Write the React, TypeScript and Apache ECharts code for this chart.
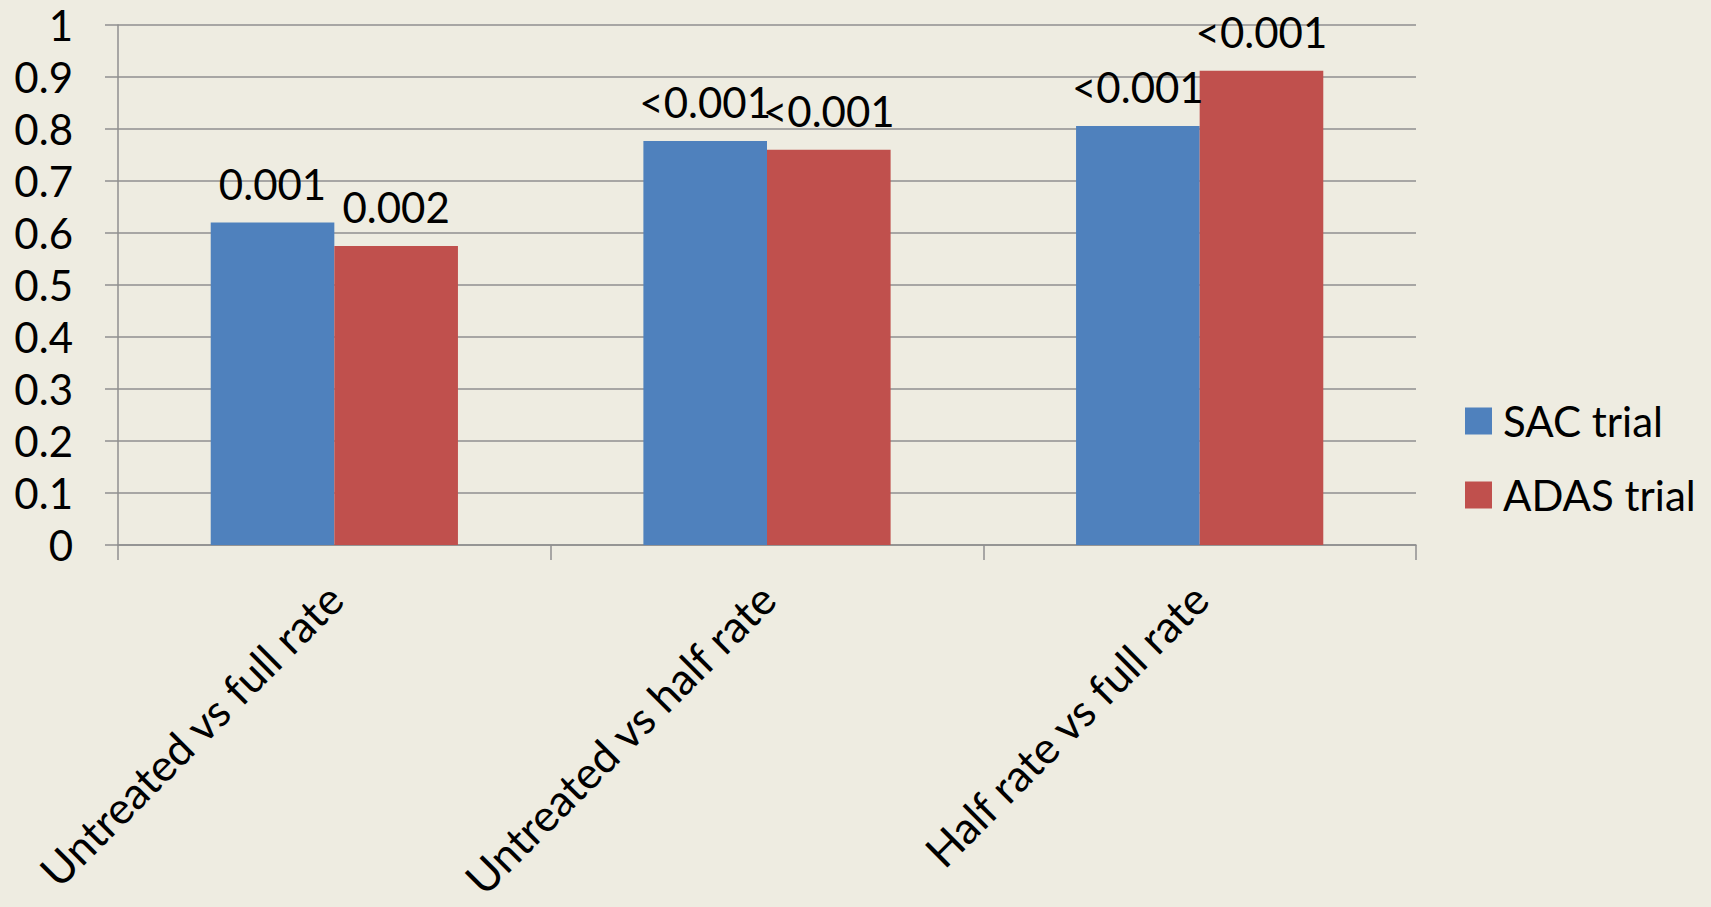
import React, { useEffect, useRef } from "react";
import * as echarts from "echarts";

const categories = ["Untreated vs full rate", "Untreated vs half rate", "Half rate vs full rate"];
const sacValues = [0.62, 0.777, 0.806];
const adasValues = [0.575, 0.76, 0.912];
const sacLabels = ["0.001", "<0.001", "<0.001"];
const adasLabels = ["0.002", "<0.001", "<0.001"];
const seriesNames = ["SAC trial", "ADAS trial"];

const FONT = "Lato, 'Open Sans', sans-serif";
const GRID_GRAY = "#8f8f8f";

export default function App() {
  const ref = useRef<HTMLDivElement>(null);

  useEffect(() => {
    if (!ref.current) return;
    const chart = echarts.init(ref.current, undefined, { renderer: "svg" });

    const labelStyle = {
      show: true,
      position: "top" as const,
      distance: 18,
      fontFamily: FONT,
      fontSize: 42,
      color: "#000",
    };

    chart.setOption({
      animation: false,
      backgroundColor: "#EEECE1",
      textStyle: { fontFamily: FONT },
      grid: { left: 118, right: 295, top: 25, bottom: 362, containLabel: false },
      legend: {
        orient: "vertical",
        left: 1460,
        top: 395,
        itemWidth: 27,
        itemHeight: 27,
        itemGap: 32,
        icon: "rect",
        data: seriesNames,
        textStyle: { fontFamily: FONT, fontSize: 42, color: "#000", padding: [0, 0, 0, 6] },
      },
      xAxis: {
        type: "category",
        data: categories,
        axisLine: { show: true, lineStyle: { color: GRID_GRAY, width: 1.5 } },
        axisTick: { show: true, alignWithLabel: false, length: 15, lineStyle: { color: GRID_GRAY, width: 1.5 } },
        axisLabel: {
          rotate: 45,
          margin: 46,
          fontFamily: FONT,
          fontSize: 44,
          color: "#000",
          interval: 0,
        },
      },
      yAxis: {
        type: "value",
        min: 0,
        max: 1,
        interval: 0.1,
        axisLine: { show: true, lineStyle: { color: GRID_GRAY, width: 1.5 } },
        axisTick: { show: true, length: 13, lineStyle: { color: GRID_GRAY, width: 1.5 } },
        splitLine: { show: true, lineStyle: { color: GRID_GRAY, width: 1.5 } },
        axisLabel: {
          margin: 45,
          fontFamily: FONT,
          fontSize: 42,
          color: "#000",
          formatter: (v: number) => String(Math.round(v * 10) / 10),
        },
      },
      series: [
        {
          name: seriesNames[0],
          type: "bar",
          data: sacValues,
          barGap: "0%",
          barCategoryGap: "42.86%",
          itemStyle: { color: "#4F81BD" },
          label: { ...labelStyle, formatter: (p: any) => sacLabels[p.dataIndex] },
        },
        {
          name: seriesNames[1],
          type: "bar",
          data: adasValues,
          barGap: "0%",
          barCategoryGap: "42.86%",
          itemStyle: { color: "#C0504D" },
          label: { ...labelStyle, formatter: (p: any) => adasLabels[p.dataIndex] },
        },
      ],
    });

    return () => chart.dispose();
  }, []);

  return <div ref={ref} style={{ width: 1711, height: 907, position: "fixed", left: 0, top: 0 }} />;
}
